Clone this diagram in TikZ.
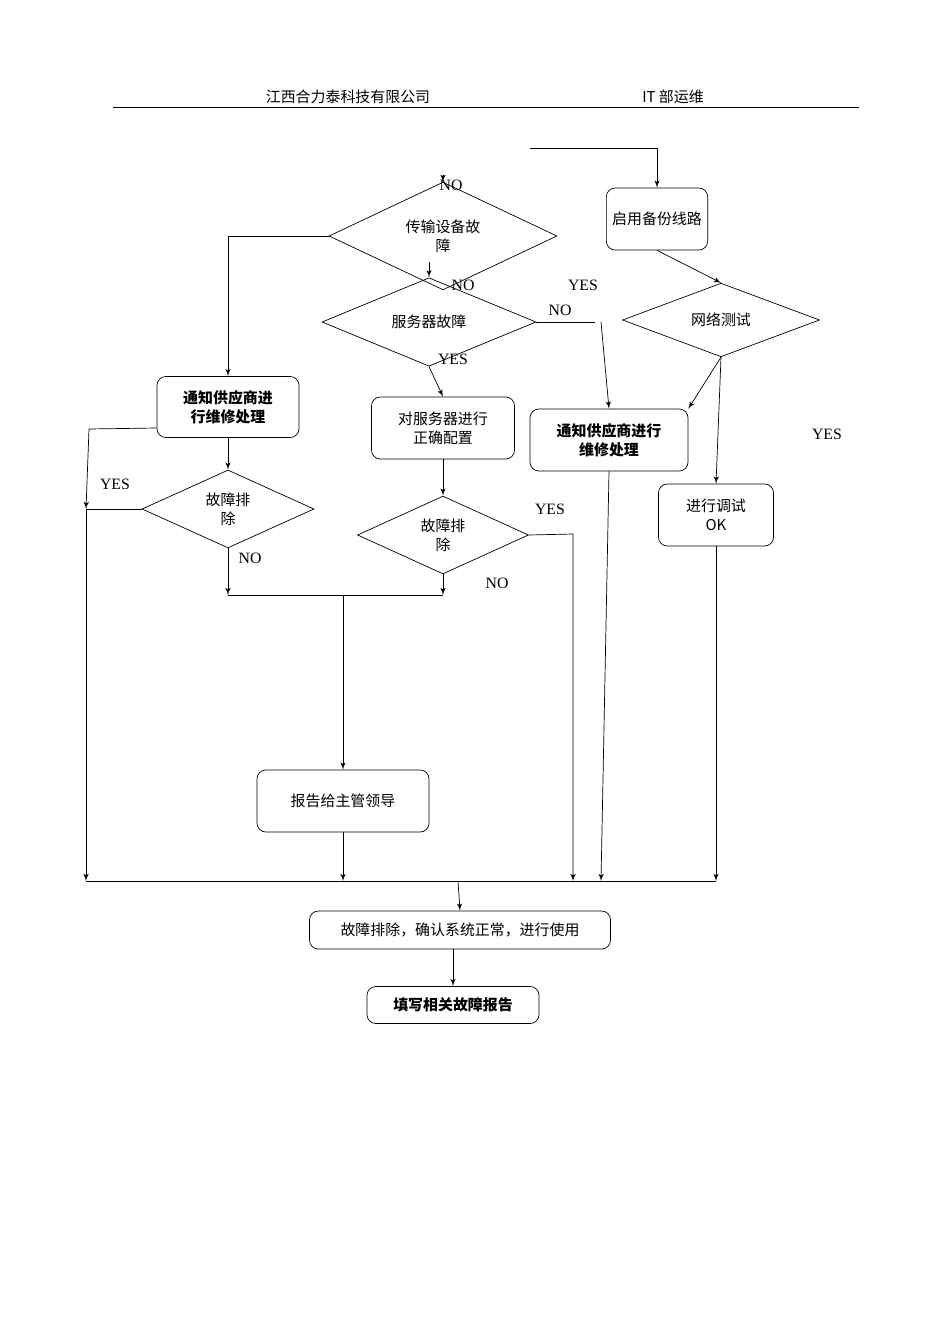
\documentclass[tikz,border=0pt]{standalone}
\usepackage{fontspec}
\setmainfont{Liberation Serif}
\newfontfamily\cjk{Noto Sans CJK SC}
\usetikzlibrary{shapes,arrows,positioning}
\tikzstyle{line} = [draw, -latex']
\tikzset{
    every node/.style={font=\cjk\fontsize{8.5}{11}\selectfont},
    box/.style={draw, rounded corners=5pt, align=center},
    bbox/.style={box, font=\cjk\bfseries\fontsize{8.5}{11}\selectfont},
    dia/.style={draw, diamond, inner sep=0pt, align=center},
    lab/.style={font=\fontsize{9}{11}\selectfont}
}
\begin{document}
\begin{tikzpicture}[x=0.02cm,y=-0.02cm]
    \useasboundingbox (0,0) rectangle (950,1344);
    % Header
    \node (hleft) at (348,97) {江西合力泰科技有限公司};
    \node (hright) at (673,97) {IT 部运维};
    \draw (113,107) -- (859,107);

    % Boxes and decisions
    \node[box, minimum width=100*0.02cm, minimum height=62*0.02cm] (backup) at (657,219) {启用备份线路};
    \node[dia, minimum width=228*0.02cm, minimum height=52*0.02cm] (trans) at (443,236) {传输设备故\\障};
    \node[dia, minimum width=214*0.02cm, minimum height=50*0.02cm] (server) at (429,322) {服务器故障};
    \node[dia, minimum width=197*0.02cm, minimum height=50*0.02cm] (net) at (721,320) {网络测试};
    \node[bbox, minimum width=142*0.02cm, minimum height=61*0.02cm] (notifyl) at (228,407) {通知供应商进\\行维修处理};
    \node[box, minimum width=143*0.02cm, minimum height=62*0.02cm] (config) at (443,428) {对服务器进行\\正确配置};
    \node[bbox, minimum width=158*0.02cm, minimum height=62*0.02cm] (notifyr) at (609,440) {通知供应商进行\\维修处理};
    \node[dia, minimum width=172*0.02cm, minimum height=50*0.02cm] (fixl) at (228,509) {故障排\\除};
    \node[dia, minimum width=171*0.02cm, minimum height=51*0.02cm] (fixm) at (443,535) {故障排\\除};
    \node[box, minimum width=115*0.02cm, minimum height=62*0.02cm] (debug) at (716,515) {进行调试\\OK};
    \node[box, minimum width=172*0.02cm, minimum height=62*0.02cm] (report) at (343,801) {报告给主管领导};
    \node[box, minimum width=301*0.02cm, minimum height=38*0.02cm] (done) at (460,930) {故障排除，确认系统正常，进行使用};
    \node[bbox, minimum width=172*0.02cm, minimum height=37*0.02cm] (write) at (453,1005) {填写相关故障报告};

    % Free ends
    \coordinate (top) at (443,175);
    \coordinate (in) at (530,148);
    \coordinate (ll) at (86,881);
    \coordinate (rr) at (716,881);
    \coordinate (mj) at (228,595);
    \coordinate (mk) at (443,595);

    % Connectors
    \draw[line] (top) -- (trans.north);
    \draw[line] (in) -| (backup.north);
    \draw[line] (trans.west) -- (228,236) -- (notifyl.north);
    \draw[line] (429,262) -- (server.north);
    \draw (server.east) -- (595,322);
    \draw[line] (601,322) -- (notifyr.north);
    \draw[line] (server.south) -- (config.north);
    \draw[line] (config.south) -- (fixm.north);
    \draw[line] (fixm.east) -- (573,534) -- (573,881);
    \draw[line] (fixm.south) -- (mk);
    \draw[line] (notifyl.south) -- (fixl.north);
    \draw[line] (fixl.south) -- (mj);
    \draw (fixl.west) -- (86,509);
    \draw[line] (notifyl.west |- 0,428) -- (89,429) -- (86,509);
    \draw[line] (86,509) -- (ll);
    \draw (mj) -- (mk);
    \draw[line] (343,595) -- (report.north);
    \draw[line] (report.south) -- (343,881);
    \draw[line] (backup.south) -- (net.north);
    \draw[line] (net.south) -- (notifyr.north east);
    \draw[line] (net.south) -- (debug.north);
    \draw[line] (debug.south) -- (rr);
    \draw[line] (notifyr.south) -- (601,881);
    \draw (ll) -- (rr);
    \draw[line] (458,881) -- (done.north);
    \draw[line] (done.south -| write.north) -- (write.north);

    % Labels
    \node[lab] (l1) at (451,185) {NO};
    \node[lab] (l2) at (463,285) {NO};
    \node[lab] (l3) at (583,285) {YES};
    \node[lab] (l4) at (560,310) {NO};
    \node[lab] (l5) at (453,359) {YES};
    \node[lab] (l6) at (827,434) {YES};
    \node[lab] (l7) at (115,484) {YES};
    \node[lab] (l8) at (550,509) {YES};
    \node[lab] (l9) at (250,558) {NO};
    \node[lab] (l10) at (497,583) {NO};
\end{tikzpicture}
\end{document}
